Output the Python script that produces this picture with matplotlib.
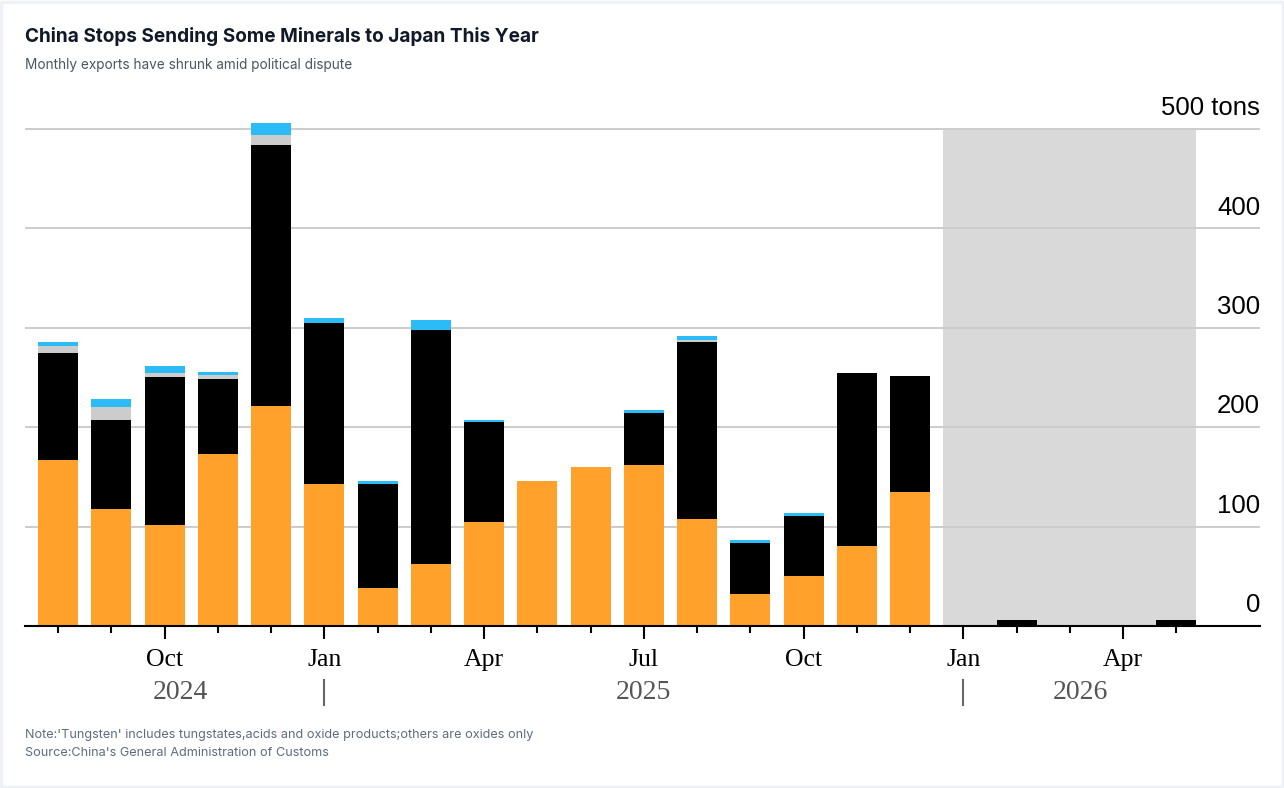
import numpy as np
import matplotlib.pyplot as plt
from matplotlib.patches import Rectangle

# Dados mensais (toneladas), ago/2024 -> mai/2026
meses = ['Aug 2024', 'Sep 2024', 'Oct 2024', 'Nov 2024', 'Dec 2024',
         'Jan 2025', 'Feb 2025', 'Mar 2025', 'Apr 2025', 'May 2025', 'Jun 2025',
         'Jul 2025', 'Aug 2025', 'Sep 2025', 'Oct 2025', 'Nov 2025', 'Dec 2025',
         'Jan 2026', 'Feb 2026', 'Mar 2026', 'Apr 2026', 'May 2026']
laranja = [167, 118, 102, 173, 221, 143, 38, 62, 105, 146, 160, 162, 108, 32, 50, 80, 135,
           0, 0, 0, 0, 0]
preto = [108, 89, 149, 75, 263, 162, 105, 236, 100, 0, 0, 52, 178, 51, 61, 175, 117,
         0, 6, 0, 0, 6]
cinza = [7, 13, 4, 5, 10, 0, 0, 0, 0, 0, 0, 0, 2, 0, 0, 0, 0,
         0, 0, 0, 0, 0]
azul = [4, 8, 7, 3, 12, 5, 3, 10, 2, 0, 0, 3, 4, 4, 3, 0, 0,
        0, 0, 0, 0, 0]

rotulos_mes = {2: 'Oct', 5: 'Jan', 8: 'Apr', 11: 'Jul', 14: 'Oct', 17: 'Jan', 20: 'Apr'}
anos = [('2024', 2.3), ('2025', 11.0), ('2026', 19.2)]
divisores_ano = [5, 17]
y_ticks = [0, 100, 200, 300, 400, 500]

W, H = 1284, 788
fig = plt.figure(figsize=(W / 100, H / 100), dpi=100)
fig.patch.set_facecolor('white')
fig.patches.append(Rectangle((0.001, 0.001), 0.998, 0.996, transform=fig.transFigure,
                             fill=False, edgecolor='#eef1f5', lw=2.5))

def px(x, y):
    return x / W, 1 - y / H

# eixo: x em pixels 25..1260, y=0 em 626, 100 t = 99.4 px
ymax = 540
top_px = 626 - ymax * 0.994
ax = fig.add_axes([25 / W, (H - 626) / H, (1260 - 25) / W, (626 - top_px) / H])
x = np.arange(len(meses))
ax.set_xlim(-0.62, 22.57)
ax.set_ylim(0, ymax)

ax.axvspan(17 - 0.375, 21 + 0.375, ymin=0, ymax=500 / ymax, color='#d9d9d9', zorder=0, lw=0)
for v in y_ticks[1:]:
    ax.axhline(v, color='#cccccc', lw=1.4, zorder=0.5)

lar = np.array(laranja)
pre = np.array(preto)
cin = np.array(cinza)
azu = np.array(azul)
w = 0.75
ax.bar(x, lar, width=w, color='#ffa12b', zorder=2)
ax.bar(x, pre, width=w, bottom=lar, color='#000000', zorder=2)
ax.bar(x, cin, width=w, bottom=lar + pre, color='#cccccc', zorder=2)
ax.bar(x, azu, width=w, bottom=lar + pre + cin, color='#2bbcf7', zorder=2)

for s in ['top', 'left', 'right']:
    ax.spines[s].set_visible(False)
ax.spines['bottom'].set_linewidth(1.5)
ax.spines['bottom'].set_zorder(3)

ax.set_yticks([])
for v in y_ticks:
    txt = '500 tons' if v == 500 else str(v)
    ax.annotate(txt, xy=(1.0, v), xycoords=('axes fraction', 'data'),
                xytext=(0, 10), textcoords='offset points', ha='right', va='baseline',
                fontsize=18.5, family='Liberation Sans', color='black')

maj = sorted(rotulos_mes.keys())
ax.set_xticks(maj)
ax.set_xticklabels([rotulos_mes[k] for k in maj], family='Liberation Serif', fontsize=18.5)
ax.set_xticks([i for i in x if i not in rotulos_mes], minor=True)
ax.tick_params(axis='x', which='major', length=9, width=1.5, pad=7.5, color='black')
ax.tick_params(axis='x', which='minor', length=5, width=1.5, color='black')

trans = ax.get_xaxis_transform()
for nome, pos in anos:
    ax.text(pos, -0.124, nome, transform=trans, ha='center', va='center',
            family='Liberation Serif', fontsize=20, color='#555555')
for d in divisores_ano:
    ax.plot([d, d], [-0.101, -0.147], transform=trans, color='#666666', lw=1.5, clip_on=False)

fig.text(*px(25, 37), 'China Stops Sending Some Minerals to Japan This Year',
         family='Inter', fontweight='bold', fontsize=13.7, color='#111827', va='center')
fig.text(*px(25, 65), 'Monthly exports have shrunk amid political dispute',
         family='Inter', fontsize=9.8, color='#4b5563', va='center')
fig.text(*px(25, 735), "Note:'Tungsten' includes tungstates,acids and oxide products;others are oxides only",
         family='Inter', fontsize=9.15, color='#5f6b80', va='center')
fig.text(*px(25, 753), "Source:China's General Administration of Customs",
         family='Inter', fontsize=9.15, color='#5f6b80', va='center')

fig.savefig('out.png', dpi=100, facecolor='white')
